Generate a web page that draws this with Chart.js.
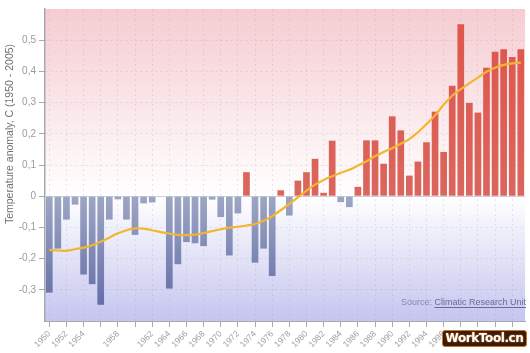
<!DOCTYPE html>
<html><head><meta charset="utf-8">
<script src="https://cdn.jsdelivr.net/npm/chart.js@4/dist/chart.umd.min.js"></script>
<style>
html,body{margin:0;padding:0;background:#fff;}
#wrap{position:relative;width:530px;height:353px;}
#wm{position:absolute;left:442px;top:330px;width:83px;height:15px;background:#3a1a08;border:1px solid #c87424;border-radius:3px;color:#fff;font:bold 12px "DejaVu Sans",sans-serif;line-height:15px;text-align:center;letter-spacing:-0.4px;text-shadow:0 0 2px #e08a2a;}
</style></head><body>
<div id="wrap"><canvas id="c" width="530" height="353"></canvas><div id="wm">WorkTool.cn</div></div>
<script>
const years = ['1950','1951','1952','1953','1954','1955','1956','1957','1958','1959',
  '1960','1961','1962','1963','1964','1965','1966','1967','1968','1969',
  '1970','1971','1972','1973','1974','1975','1976','1977','1978','1979',
  '1980','1981','1982','1983','1984','1985','1986','1987','1988','1989',
  '1990','1991','1992','1993','1994','1995','1996','1997','1998','1999',
  '2000','2001','2002','2003','2004','2005'];
const anomalies = [-0.309,-0.168,-0.075,-0.027,-0.251,-0.282,-0.348,-0.075,-0.010,-0.075,
  -0.124,-0.023,-0.020,0.000,-0.296,-0.218,-0.147,-0.151,-0.160,-0.011,
  -0.067,-0.190,-0.055,0.077,-0.213,-0.168,-0.256,0.019,-0.062,0.050,
  0.077,0.120,0.011,0.178,-0.019,-0.035,0.030,0.179,0.179,0.104,
  0.256,0.211,0.066,0.111,0.173,0.271,0.142,0.354,0.551,0.299,
  0.268,0.412,0.463,0.471,0.446,0.471];
const smoothed = [-0.172,-0.174,-0.175,-0.170,-0.165,-0.157,-0.146,-0.133,-0.119,-0.109,
  -0.103,-0.104,-0.109,-0.115,-0.120,-0.124,-0.125,-0.123,-0.118,-0.112,
  -0.106,-0.101,-0.098,-0.094,-0.089,-0.079,-0.064,-0.045,-0.025,-0.004,
  0.018,0.037,0.052,0.064,0.075,0.085,0.098,0.112,0.128,0.142,
  0.154,0.168,0.183,0.205,0.231,0.259,0.293,0.322,0.343,0.362,
  0.380,0.399,0.412,0.421,0.426,0.428];
const hiddenYearLabels = ['1956','1960'];
const yAxisTitle = 'Temperature anomaly, C (1950 - 2005)';
const sourceLabel = 'Source: ';
const sourceLink = 'Climatic Research Unit';

const bgPlugin = {
  id: 'bg',
  beforeDraw(chart) {
    const {ctx, chartArea: a, scales: {y}} = chart;
    const y0 = y.getPixelForValue(0);
    const t = (y0 - a.top) / (a.bottom - a.top);
    const g = ctx.createLinearGradient(0, a.top, 0, a.bottom);
    g.addColorStop(0, '#f5ccd1');
    g.addColorStop(t, '#ffffff');
    g.addColorStop(1, '#c5c5ef');
    ctx.save();
    ctx.fillStyle = g;
    ctx.fillRect(a.left, a.top, a.right - a.left, a.bottom - a.top);
    ctx.restore();
  },
  beforeDatasetsDraw(chart) {
    const {ctx, chartArea: a, scales: {y}} = chart;
    const y0 = Math.round(y.getPixelForValue(0)) + 0.5;
    ctx.save();
    ctx.strokeStyle = '#cfcfd6';
    ctx.lineWidth = 1;
    ctx.beginPath(); ctx.moveTo(a.left, y0); ctx.lineTo(a.right, y0); ctx.stroke();
    ctx.restore();
  },
  afterDraw(chart) {
    const {ctx, chartArea: a} = chart;
    ctx.save();
    ctx.translate(10, 134);
    ctx.rotate(-Math.PI / 2);
    ctx.font = '10.5px "Liberation Sans"';
    ctx.fillStyle = '#707070';
    ctx.textAlign = 'center';
    ctx.textBaseline = 'middle';
    ctx.fillText(yAxisTitle, 0, 0);
    ctx.restore();

    ctx.save();
    ctx.font = '9px "Liberation Sans"';
    ctx.textBaseline = 'alphabetic';
    const w1 = ctx.measureText(sourceLabel).width;
    const w2 = ctx.measureText(sourceLink).width;
    const right = 526, base = 305;
    const x1 = right - w1 - w2;
    ctx.fillStyle = '#8888ad';
    ctx.fillText(sourceLabel, x1, base);
    ctx.fillStyle = '#6a6a9e';
    ctx.fillText(sourceLink, x1 + w1, base);
    ctx.strokeStyle = '#6a6a9e';
    ctx.lineWidth = 1;
    ctx.beginPath(); ctx.moveTo(x1 + w1, base + 2.5); ctx.lineTo(right, base + 2.5); ctx.stroke();
    ctx.restore();
  }
};

function barColor(c) {
  const chart = c.chart;
  const {chartArea, scales} = chart;
  if (!chartArea || !scales.y) return '#d95b52';
  const y = scales.y;
  const y0 = y.getPixelForValue(0);
  const v = c.raw;
  const g = chart.ctx.createLinearGradient(0, y.getPixelForValue(v >= 0 ? 0.6 : 0), 0, v >= 0 ? y0 : y.getPixelForValue(-0.4));
  if (v >= 0) {
    g.addColorStop(0, '#e0544a');
    g.addColorStop(1, '#da665d');
  } else {
    g.addColorStop(0, '#9ea6c4');
    g.addColorStop(1, '#5b66a3');
  }
  return g;
}

new Chart(document.getElementById('c'), {
  type: 'bar',
  data: {
    labels: years,
    datasets: [
      {
        type: 'line',
        data: smoothed,
        borderColor: '#f2b630',
        borderWidth: 2.2,
        pointRadius: 0,
        tension: 0.4,
        fill: false,
        order: 0
      },
      {
        type: 'bar',
        data: anomalies,
        backgroundColor: barColor,
        borderWidth: 0,
        barPercentage: 0.78,
        categoryPercentage: 1,
        order: 1
      }
    ]
  },
  options: {
    responsive: false,
    animation: false,
    events: [],
    layout: { padding: { top: 7, left: 0, right: 0, bottom: 0 }, autoPadding: false },
    plugins: { legend: { display: false }, tooltip: { enabled: false } },
    scales: {
      x: {
        offset: true,
        afterFit(s) { s.height = 32; },
        grid: {
          offset: false,
          color: (c) => (c.index % 2 === 0 ? 'rgba(150,150,170,0.22)' : 'rgba(0,0,0,0)'),
          tickColor: (c) => (c.index % 2 === 0 ? '#a8a8b0' : 'rgba(0,0,0,0)'),
          tickLength: 6
        },
        border: { color: '#a8a8b0', width: 1, dash: [2, 3] },
        ticks: {
          autoSkip: false,
          maxRotation: 45,
          minRotation: 45,
          padding: 2,
          color: '#a0a0a8',
          font: { family: 'Liberation Sans', size: 8.5 },
          callback(val, i) {
            const lab = years[i];
            if (i % 2 !== 0) return '';
            if (hiddenYearLabels.includes(lab)) return '';
            return lab;
          }
        }
      },
      y: {
        min: -0.4,
        max: 0.6,
        afterFit(s) { s.width = 45; },
        grid: {
          color: (c) => {
            const v = Math.round(c.tick.value * 10);
            if (v === 6 || v === -4 || v === 0) return 'rgba(0,0,0,0)';
            return 'rgba(150,150,170,0.22)';
          },
          tickColor: (c) => {
            const v = Math.round(c.tick.value * 10);
            return (v === 6 || v === -4) ? 'rgba(0,0,0,0)' : '#a8a8b0';
          },
          tickLength: 6
        },
        border: { color: '#a8a8b0', width: 1.5, dash: [2, 3] },
        ticks: {
          stepSize: 0.1,
          padding: 3,
          color: '#9a9aa2',
          font: { family: 'Liberation Sans', size: 10 },
          callback(v) {
            const n = Math.round(v * 10);
            if (n === 6 || n === -4) return '';
            if (n === 0) return '0';
            return (n / 10).toFixed(1).replace('.', ',');
          }
        }
      }
    }
  },
  plugins: [bgPlugin]
});
</script>
</body></html>
